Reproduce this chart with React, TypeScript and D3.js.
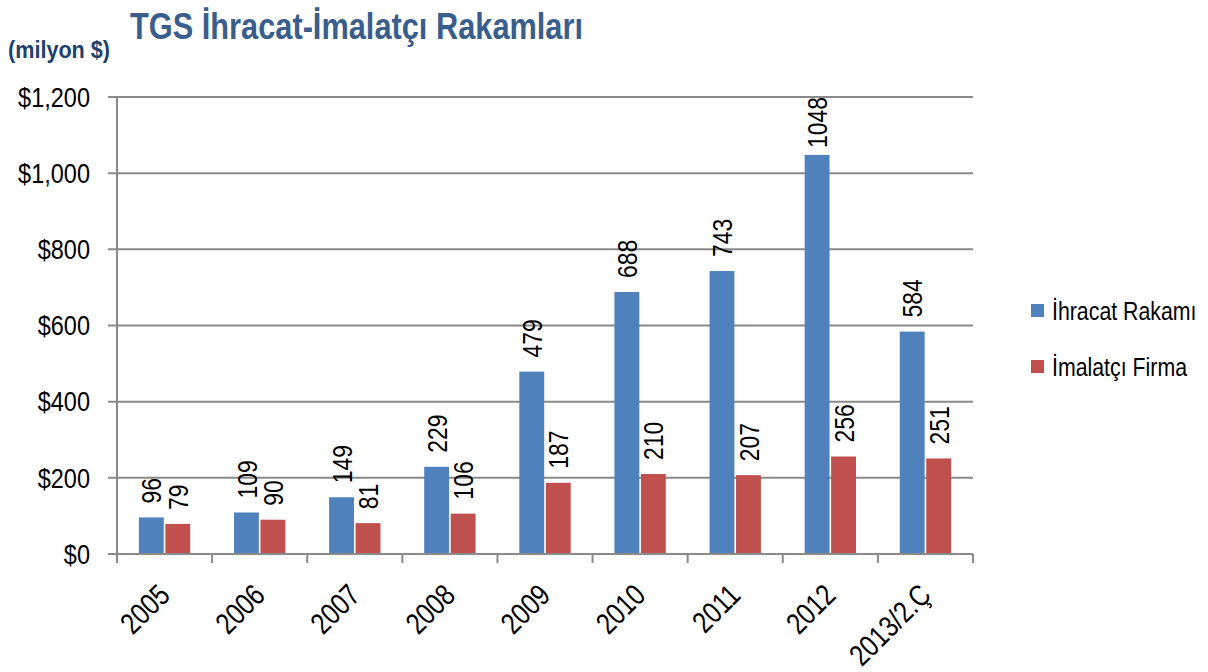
import * as d3 from "d3";
import { useRef, useEffect } from "react";

const years = ["2005", "2006", "2007", "2008", "2009", "2010", "2011", "2012", "2013/2.Ç"];
const ihracat = [96, 109, 149, 229, 479, 688, 743, 1048, 584];
const imalatci = [79, 90, 81, 106, 187, 210, 207, 256, 251];
const seriesNames = ["İhracat Rakamı", "İmalatçı Firma"];
const seriesColors = ["#4F81BD", "#C0504D"];
const yTicks = [0, 200, 400, 600, 800, 1000, 1200];

const FONT = "'Liberation Sans', Arial, sans-serif";
const NARROW = 0.82; // Arial Narrow look

export default function App() {
  const svgRef = useRef<SVGSVGElement>(null);

  useEffect(() => {
    document.body.style.margin = "0";
    const svg = d3.select(svgRef.current);
    svg.selectAll("*").remove();

    const left = 117, right = 973, top = 97, bottom = 554;
    const gridColor = "#8a8a8a";

    const x0 = d3.scaleBand().domain(years).range([left, right]).paddingInner(0.46).paddingOuter(0.23);
    const x1 = d3.scaleBand().domain(seriesNames).range([0, x0.bandwidth()]).paddingInner(0.06);
    const y = d3.scaleLinear().domain([0, 1200]).range([bottom, top]);

    // title
    svg.append("text")
      .attr("x", 130).attr("y", 39)
      .attr("font-family", FONT).attr("font-weight", "bold").attr("font-size", 36)
      .attr("fill", "#3A5E8C")
      .attr("textLength", 453).attr("lengthAdjust", "spacingAndGlyphs")
      .text("TGS İhracat-İmalatçı Rakamları");

    svg.append("text")
      .attr("x", 8).attr("y", 58)
      .attr("font-family", FONT).attr("font-weight", "bold").attr("font-size", 24)
      .attr("fill", "#1F3F6E")
      .attr("textLength", 102).attr("lengthAdjust", "spacingAndGlyphs")
      .text("(milyon $)");

    // gridlines + y ticks
    svg.append("g").selectAll("line")
      .data(yTicks)
      .enter()
      .append("line")
      .attr("x1", left - 9).attr("x2", right)
      .attr("y1", d => y(d)).attr("y2", d => y(d))
      .attr("stroke", gridColor).attr("stroke-width", 2);

    svg.append("g").selectAll("text")
      .data(yTicks)
      .enter()
      .append("text")
      .attr("transform", d => `translate(${left - 27},${y(d)}) scale(0.84,1)`)
      .attr("dy", "0.35em")
      .attr("text-anchor", "end")
      .attr("font-family", FONT).attr("font-size", 28).attr("fill", "#000")
      .text(d => "$" + d3.format(",")(d));

    // bars
    const series = [ihracat, imalatci];
    const groups = svg.append("g").selectAll("g")
      .data(years)
      .enter()
      .append("g")
      .attr("transform", d => `translate(${x0(d)},0)`);

    groups.selectAll("rect")
      .data((d, i) => series.map((s, k) => ({ key: seriesNames[k], value: s[i], color: seriesColors[k] })))
      .enter()
      .append("rect")
      .attr("x", d => x1(d.key)!)
      .attr("y", d => y(d.value))
      .attr("width", x1.bandwidth())
      .attr("height", d => bottom - y(d.value))
      .attr("fill", d => d.color);

    // value labels (rotated)
    groups.selectAll("text")
      .data((d, i) => series.map((s, k) => ({ key: seriesNames[k], value: s[i] })))
      .enter()
      .append("text")
      .attr("text-anchor", "start")
      .attr("dy", "0.36em")
      .attr("font-family", FONT).attr("font-size", 28).attr("fill", "#000")
      .text(d => String(d.value))
      .each(function (d) {
        const el = this as SVGTextElement;
        const len = el.getComputedTextLength() * NARROW;
        const base = Math.max(y(d.value) - 14, top + len);
        const cx = x1(d.key)! + x1.bandwidth() / 2;
        d3.select(el).attr("transform", `translate(${cx},${base}) rotate(-90) scale(${NARROW},1)`);
      });

    // axes lines
    svg.append("line")
      .attr("x1", left).attr("x2", left).attr("y1", top).attr("y2", bottom)
      .attr("stroke", gridColor).attr("stroke-width", 2);
    svg.append("line")
      .attr("x1", left - 9).attr("x2", right).attr("y1", bottom).attr("y2", bottom)
      .attr("stroke", gridColor).attr("stroke-width", 2);

    const half = (x0.step() - x0.bandwidth()) / 2;
    const bounds = years.map(d => x0(d)! - half).concat([right]);
    svg.append("g").selectAll("line")
      .data(bounds)
      .enter()
      .append("line")
      .attr("x1", d => d).attr("x2", d => d)
      .attr("y1", bottom).attr("y2", bottom + 9)
      .attr("stroke", gridColor).attr("stroke-width", 2);

    // x labels
    svg.append("g").selectAll("text")
      .data(years)
      .enter()
      .append("text")
      .attr("transform", d => `translate(${x0(d)! + x0.bandwidth() / 2 + 7},${bottom + 43}) rotate(-45) scale(${NARROW},1)`)
      .attr("text-anchor", "end")
      .attr("font-family", FONT).attr("font-size", 30).attr("fill", "#000")
      .text(d => d);

    // legend
    const legend = svg.append("g").selectAll("g")
      .data(seriesNames)
      .enter()
      .append("g")
      .attr("transform", (d, i) => `translate(1031,${304 + i * 56})`);
    legend.append("rect")
      .attr("width", 13).attr("height", 13)
      .attr("fill", (d, i) => seriesColors[i]);
    legend.append("text")
      .attr("transform", `translate(21,16) scale(${NARROW},1)`)
      .attr("font-family", FONT).attr("font-size", 26).attr("fill", "#000")
      .text(d => d);
  }, []);

  return (
    <div>
      <svg ref={svgRef} width={1208} height={672} style={{ display: "block", background: "#fff" }} />
    </div>
  );
}
